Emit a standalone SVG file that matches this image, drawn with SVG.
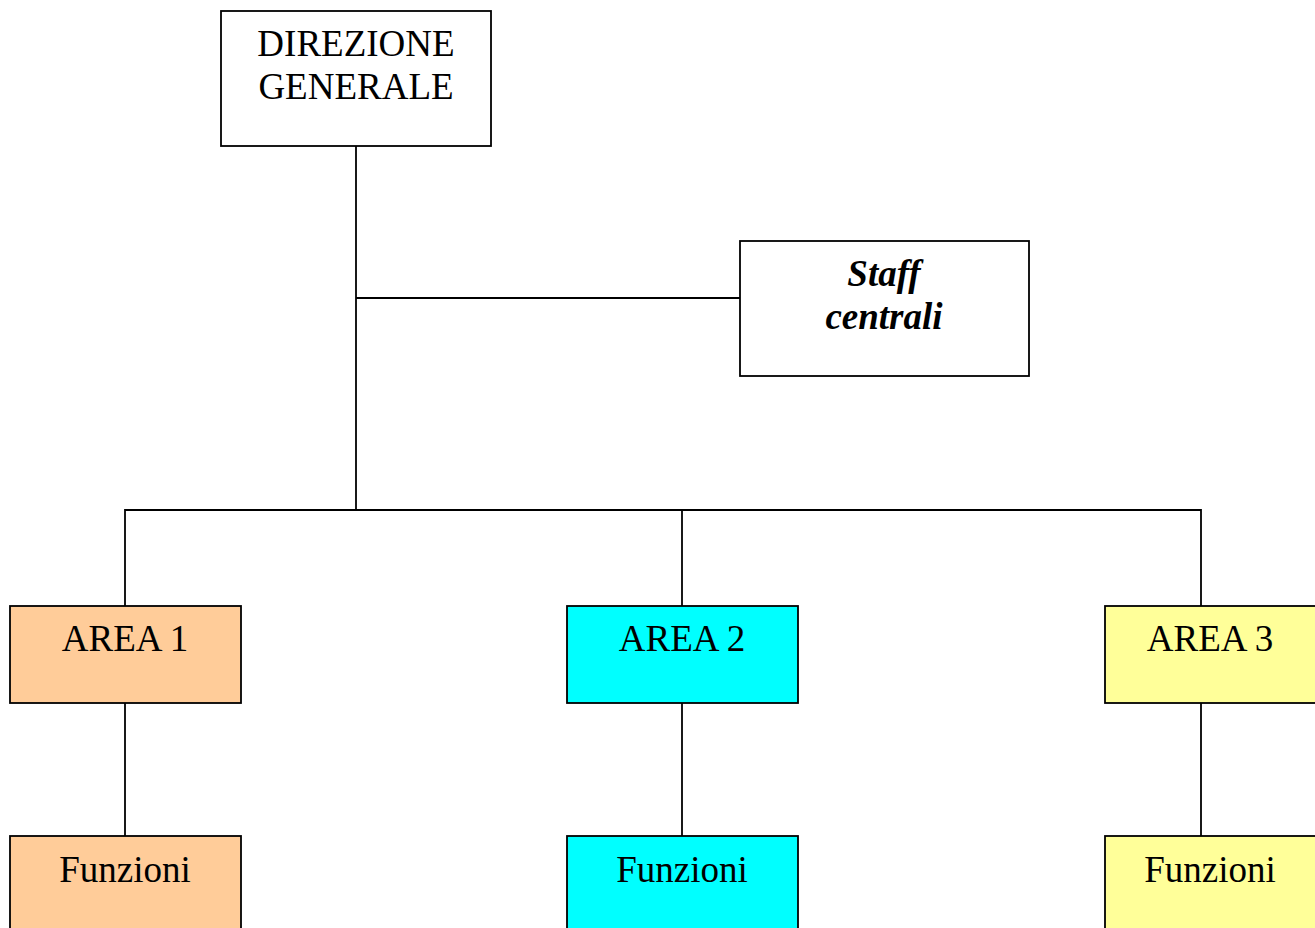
<svg xmlns="http://www.w3.org/2000/svg" width="1315" height="928" viewBox="0 0 1315 928">
  <style>
    .box { stroke: #000; stroke-width: 1.8; }
    .white { fill: #fff; }
    .a1 { fill: #FFCC99; }
    .a2 { fill: #00FFFF; }
    .a3 { fill: #FFFF99; }
    .lbl { font-family: "Liberation Serif", "Times New Roman", serif; font-size: 37px; fill: #000; text-anchor: middle; }
    .staff { font-weight: bold; font-style: italic; }
    .link { stroke: #000; stroke-width: 1.8; fill: none; }
  </style>
  <rect width="1315" height="928" fill="#fff"/>

  <!-- connectors -->
  <g id="connectors">
    <path class="link" d="M356 146 V510"/>
    <path class="link" d="M356 298 H740"/>
    <path class="link" d="M125 606 V510 H1201 V606"/>
    <path class="link" d="M682 510 V606"/>
    <path class="link" d="M125 703 V836"/>
    <path class="link" d="M682 703 V836"/>
    <path class="link" d="M1201 703 V836"/>
  </g>

  <g id="direzione">
    <rect class="box white" x="221" y="11" width="270" height="135"/>
    <text class="lbl" x="356" y="56">DIREZIONE</text>
    <text class="lbl" x="356" y="99">GENERALE</text>
  </g>

  <g id="staff">
    <rect class="box white" x="740" y="241" width="289" height="135"/>
    <text class="lbl staff" x="884" y="286">Staff</text>
    <text class="lbl staff" x="884" y="329">centrali</text>
  </g>

  <g id="area1">
    <rect class="box a1" x="10" y="606" width="231" height="97"/>
    <text class="lbl" x="125" y="651">AREA 1</text>
  </g>
  <g id="area2">
    <rect class="box a2" x="567" y="606" width="231" height="97"/>
    <text class="lbl" x="682" y="651">AREA 2</text>
  </g>
  <g id="area3">
    <rect class="box a3" x="1105" y="606" width="231" height="97"/>
    <text class="lbl" x="1210" y="651">AREA 3</text>
  </g>

  <g id="funzioni1">
    <rect class="box a1" x="10" y="836" width="231" height="110"/>
    <text class="lbl" x="125" y="882">Funzioni</text>
  </g>
  <g id="funzioni2">
    <rect class="box a2" x="567" y="836" width="231" height="110"/>
    <text class="lbl" x="682" y="882">Funzioni</text>
  </g>
  <g id="funzioni3">
    <rect class="box a3" x="1105" y="836" width="231" height="110"/>
    <text class="lbl" x="1210" y="882">Funzioni</text>
  </g>
</svg>
